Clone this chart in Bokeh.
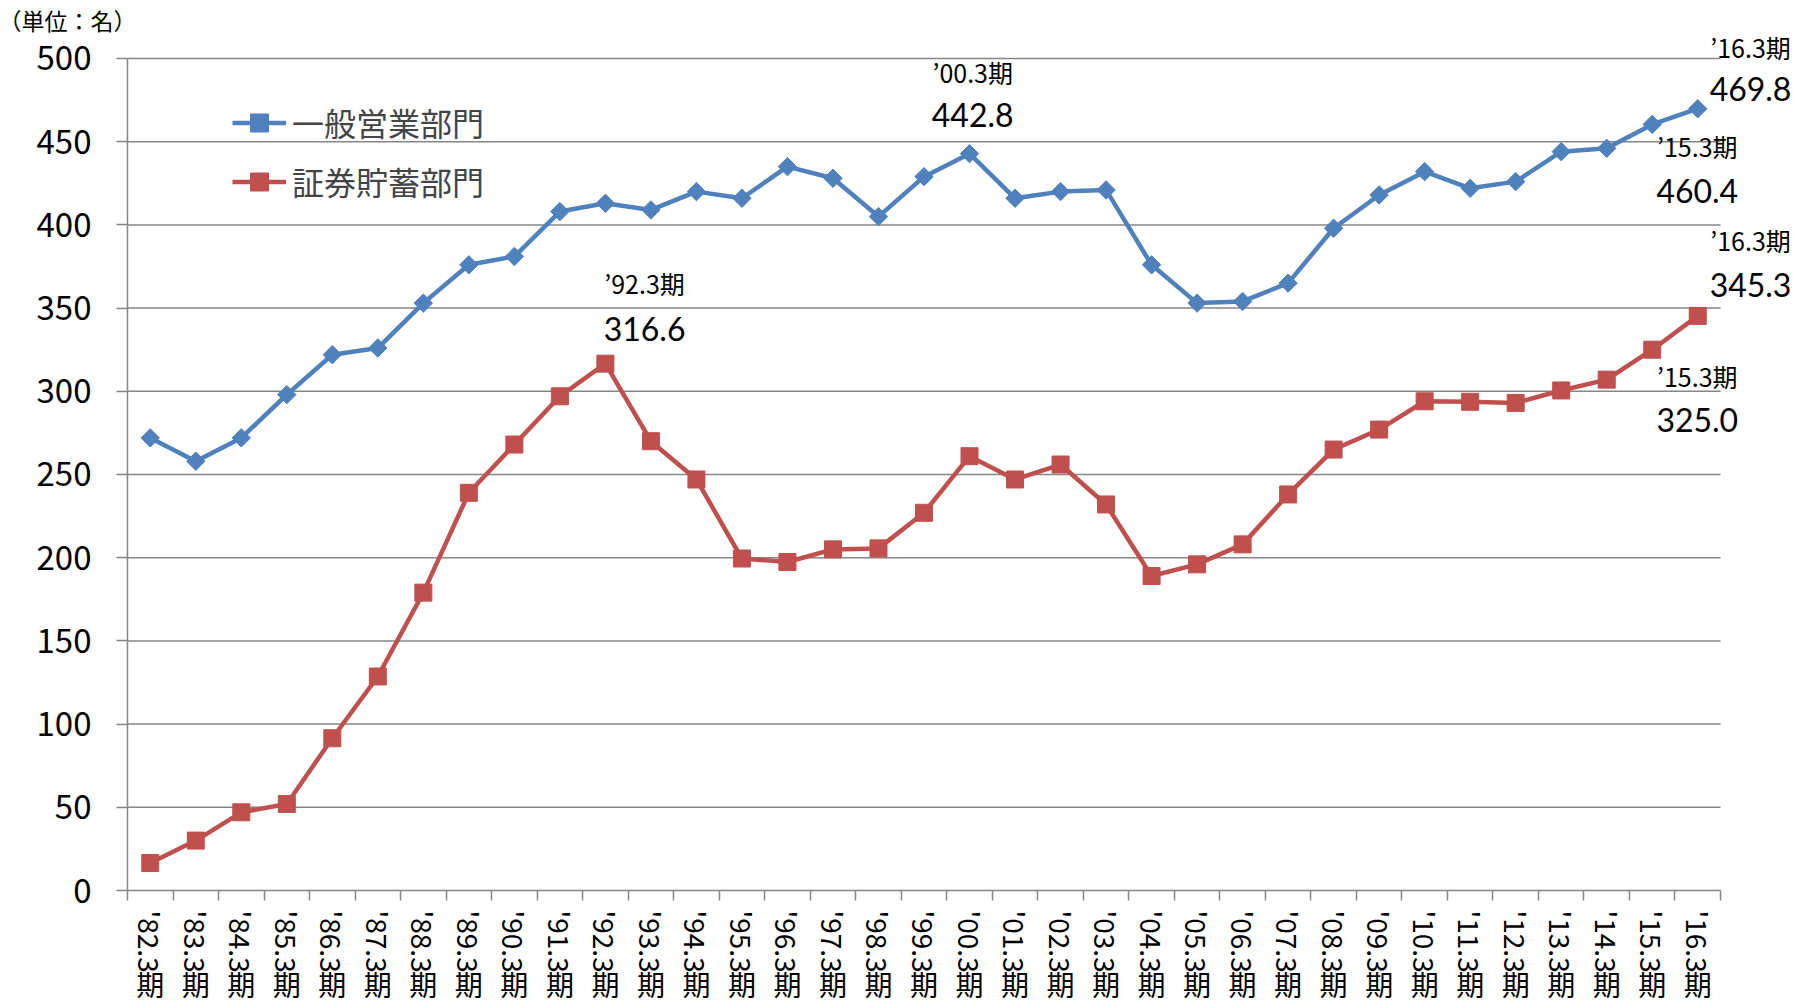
import math
from bokeh.plotting import figure
from bokeh.models import (ColumnDataSource, Label, Legend, LegendItem, FixedTicker,
                          Range1d, LinearAxis, CustomJSTickFormatter)
from bokeh.embed import file_html
from bokeh.resources import INLINE

periods = ["'82.3", "'83.3", "'84.3", "'85.3", "'86.3", "'87.3", "'88.3", "'89.3",
           "'90.3", "'91.3", "'92.3", "'93.3", "'94.3", "'95.3", "'96.3", "'97.3",
           "'98.3", "'99.3", "'00.3", "'01.3", "'02.3", "'03.3", "'04.3", "'05.3",
           "'06.3", "'07.3", "'08.3", "'09.3", "'10.3", "'11.3", "'12.3", "'13.3",
           "'14.3", "'15.3", "'16.3"]
period_suffix = "期"

general = [272, 258, 272, 298, 322, 326, 353, 376, 381, 408, 413, 409, 420, 416,
           435, 428, 405, 429, 442.8, 416, 420, 421, 376, 353, 354, 365, 398, 418,
           432, 422, 426, 444, 446, 460.4, 469.8]
securities = [16.5, 30, 47, 52, 91.5, 128.6, 179, 239, 268, 297, 316.6, 270, 247,
              199.5, 197.4, 205, 205.6, 227, 261, 247, 256, 232, 189, 196, 208, 238,
              265, 277, 294, 293.7, 293, 300.5, 307, 325.0, 345.3]

series_names = ["一般営業部門", "証券貯蓄部門"]
unit_label = "（単位：名）"
y_ticks = list(range(0, 501, 50))

BLUE = "#4F81BD"
RED = "#C0504D"
GRID = "#868686"
JP = "Noto Sans CJK JP"
NUM = "Lato"

n = len(periods)
centers = [i + 0.5 for i in range(n)]
bounds_x = list(range(n + 1))

p = figure(width=1794, height=1006,
           x_range=Range1d(0, 36.626), y_range=Range1d(0, 515.02),
           output_backend="svg", toolbar_location=None, x_axis_type=None,
           min_border_left=127, min_border_right=0, min_border_top=33,
           min_border_bottom=116, title=unit_label)
p.outline_line_color = None
p.background_fill_color = "white"
p.border_fill_color = "white"
p.title.align = "left"
p.title.offset = -129
p.title.standoff = -6
p.title.text_font = JP
p.title.text_font_size = "23px"
p.title.text_font_style = "normal"
p.title.text_color = "black"

# x axis: boundary ticks as minor ticks, period labels at category centres
xa = LinearAxis(ticker=FixedTicker(ticks=centers, minor_ticks=bounds_x),
                formatter=CustomJSTickFormatter(args=dict(labels=periods),
                                                code="return labels[Math.floor(tick)] || ''"),
                bounds=(0, n))
xa.axis_line_color = GRID
xa.axis_line_width = 1.5
xa.major_tick_out = 0
xa.major_tick_in = 0
xa.minor_tick_out = 10
xa.minor_tick_in = 0
xa.minor_tick_line_color = GRID
xa.minor_tick_line_width = 1.5
xa.major_label_orientation = -math.pi / 2
xa.major_label_standoff = 10
xa.major_label_text_font = JP
xa.major_label_text_font_size = "28px"
xa.major_label_text_color = "black"
p.add_layout(xa, "below")

xb = LinearAxis(ticker=FixedTicker(ticks=centers, minor_ticks=[]),
                formatter=CustomJSTickFormatter(args=dict(s=period_suffix), code="return s"),
                bounds=(0, n))
xb.axis_line_color = None
xb.major_tick_line_color = None
xb.minor_tick_line_color = None
xb.major_tick_out = 0
xb.major_tick_in = 0
xb.minor_tick_out = 0
xb.minor_tick_in = 0
xb.major_label_standoff = -12
xb.major_label_text_font = JP
xb.major_label_text_font_size = "28px"
xb.major_label_text_color = "black"
p.add_layout(xb, "below")

# y axis
ya = p.yaxis[0]
ya.ticker = FixedTicker(ticks=y_ticks, minor_ticks=[])
ya.bounds = (0, 500)
ya.axis_line_color = GRID
ya.axis_line_width = 1.5
ya.major_tick_line_color = GRID
ya.major_tick_line_width = 1.5
ya.major_tick_out = 11
ya.major_tick_in = 0
ya.minor_tick_line_color = None
ya.major_label_text_font = JP
ya.major_label_text_font_size = "33px"
ya.major_label_text_color = "black"
ya.major_label_standoff = 25
p.ygrid.visible = False

# horizontal grid lines, limited to the category span
grid_src = ColumnDataSource(dict(y=y_ticks[1:]))
p.segment(x0=0, x1=n, y0="y", y1="y", source=grid_src, line_color=GRID,
          line_width=1.5)

src = ColumnDataSource(dict(x=centers, general=general, securities=securities))
l1 = p.line("x", "general", source=src, color=BLUE, line_width=4.5)
s1 = p.scatter("x", "general", source=src, marker="square", angle=math.pi / 4,
               size=13, color=BLUE)
l2 = p.line("x", "securities", source=src, color=RED, line_width=4.5)
s2 = p.scatter("x", "securities", source=src, marker="square", size=17, color=RED)

legend = Legend(items=[LegendItem(label=series_names[0], renderers=[l1, s1]),
                       LegendItem(label=series_names[1], renderers=[l2, s2])],
                location=(105, 686), label_text_font=JP, label_text_font_size="32px",
                glyph_width=54, glyph_height=45, label_height=45, spacing=13,
                padding=0, margin=0, border_line_color=None, background_fill_alpha=0,
                label_standoff=6)
p.add_layout(legend)

# callouts
def callout(idx, vals, x, y_tag, y_val):
    tag = "’" + periods[idx][1:] + period_suffix
    p.add_layout(Label(x=x, y=y_tag, text=tag, text_align="center",
                       text_baseline="middle", text_font=JP, text_font_size="25px",
                       text_color="black"))
    p.add_layout(Label(x=x, y=y_val, text=f"{vals[idx]:.1f}", text_align="center",
                       text_baseline="middle", text_font=NUM, text_font_size="32px",
                       text_color="black"))

callout(18, general, 18.57, 491.6, 466.3)
callout(10, securities, 11.36, 364.8, 337.7)
callout(34, general, 35.66, 507.2, 481.4)
callout(33, general, 34.49, 447.7, 420.4)
callout(34, securities, 35.66, 391.2, 363.6)
callout(33, securities, 34.49, 309.0, 282.5)

open("out.html", "w").write(file_html(p, INLINE))
